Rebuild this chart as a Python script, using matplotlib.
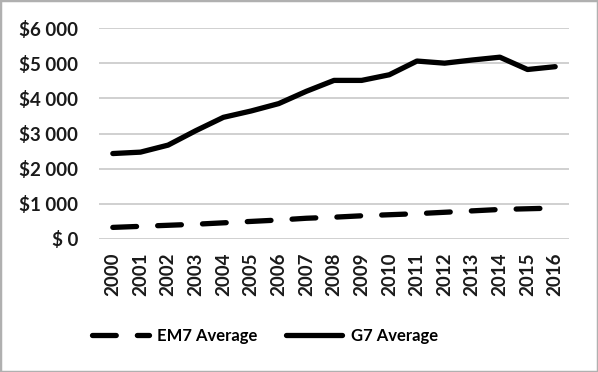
import matplotlib.pyplot as plt
from matplotlib.ticker import FuncFormatter
from matplotlib.patches import Rectangle

years = [str(y) for y in range(2000, 2017)]
g7_avg = [2430, 2470, 2670, 3080, 3460, 3640, 3850, 4200, 4510, 4510, 4670, 5060, 5000, 5090, 5170, 4820, 4900]
em7_avg = [330, 360, 390, 420, 460, 500, 540, 590, 620, 660, 690, 720, 760, 800, 840, 860, 880]

plt.rcParams['font.family'] = ['Lato', 'DejaVu Sans']

fig = plt.figure(figsize=(5.98, 3.72), dpi=100)
ax = fig.add_axes([99 / 598, 1 - 239 / 372, (569 - 99) / 598, (239 - 28) / 372])

x = range(len(years))
ax.plot(x, em7_avg, color='black', lw=3.8, dashes=(4.5, 4), dash_capstyle='round',
        solid_capstyle='round', label='EM7 Average')
ax.plot(x, g7_avg, color='black', lw=3.8, solid_capstyle='round', label='G7 Average')

ax.set_ylim(0, 6000)
ax.set_yticks(range(0, 6001, 1000))
ax.yaxis.set_major_formatter(FuncFormatter(
    lambda v, p: '$' + ('{:,.0f}'.format(v).replace(',', ' ') if v else ' 0')))
ax.set_xlim(-0.5, len(years) - 0.5)
ax.set_xticks(list(x))
ax.set_xticklabels(years, rotation=90)
ax.tick_params(length=0, labelsize=13.5)
ax.tick_params(axis='y', pad=15)
ax.tick_params(axis='x', pad=10)
for lbl in ax.get_xticklabels() + ax.get_yticklabels():
    lbl.set_fontweight('bold')
    lbl.set_color('#1a1a1a')
ax.grid(axis='y', color='#c8c8c8', lw=1.2)
ax.set_axisbelow(True)
for s in ax.spines.values():
    s.set_visible(False)

leg = fig.legend(loc='center', bbox_to_anchor=(0.443, 1 - 336 / 372), ncol=2, frameon=False,
                 handlelength=3.4, columnspacing=1.7, handletextpad=0.5,
                 prop={'size': 12, 'weight': 'bold'})

fig.patches.append(Rectangle((0, 0), 1, 1, transform=fig.transFigure, fill=False,
                             edgecolor='#b0b0b0', lw=2.5))

fig.savefig('out.png', dpi=100)
